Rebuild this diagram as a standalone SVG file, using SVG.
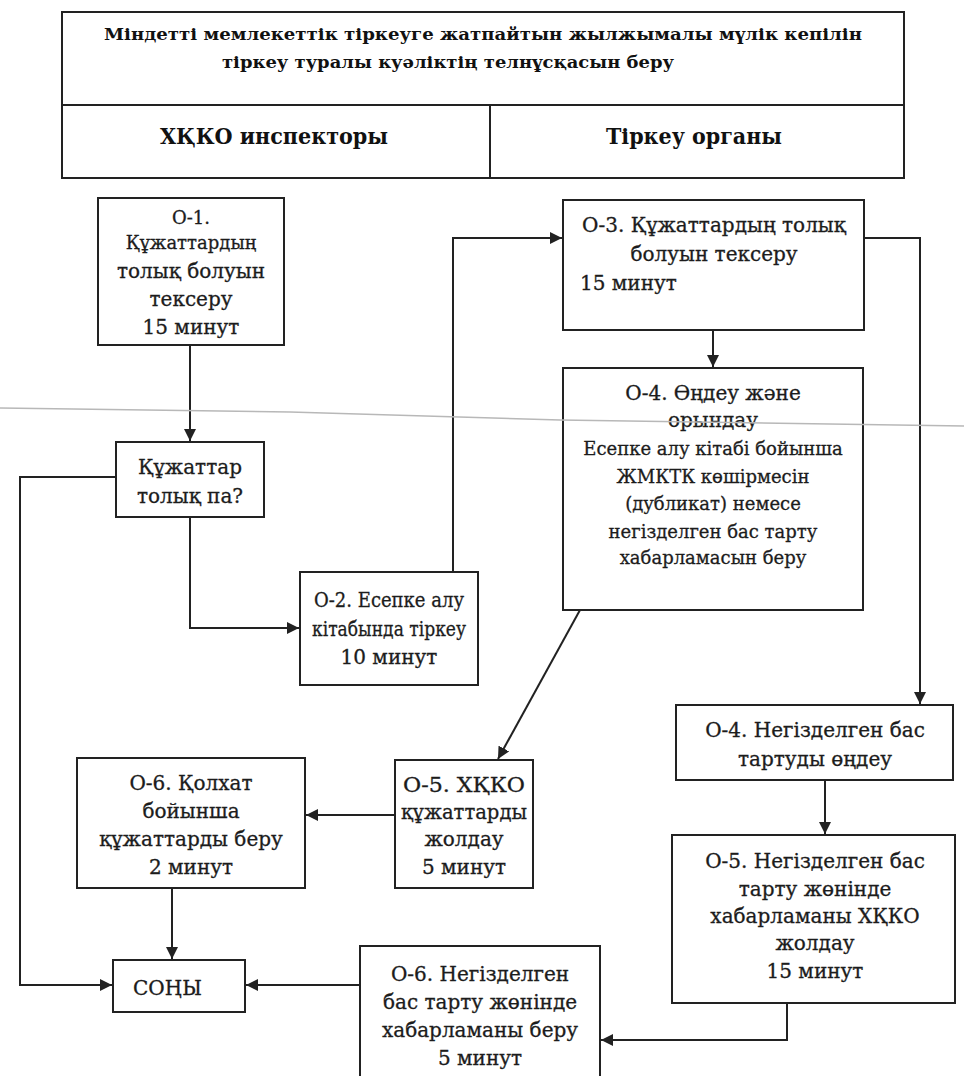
<svg xmlns="http://www.w3.org/2000/svg" width="964" height="1076" viewBox="0 0 964 1076">
  <style>
    .box { fill: #ffffff; stroke: #222222; stroke-width: 2; }
    .frame { fill: none; stroke: #222222; stroke-width: 2; }
    .t { font-family: "DejaVu Serif", "Liberation Serif", serif; font-size: 20px; fill: #1c1c1c; stroke: #1c1c1c; stroke-width: 0.3; text-anchor: middle; }
    .ts { font-family: "DejaVu Serif", "Liberation Serif", serif; font-size: 18px; fill: #1c1c1c; stroke: #1c1c1c; stroke-width: 0.3; text-anchor: middle; }
    .title { font-family: "DejaVu Serif", "Liberation Serif", serif; font-size: 17px; font-weight: bold; fill: #111111; }
    .lane { font-family: "DejaVu Serif", "Liberation Serif", serif; font-size: 22px; font-weight: bold; fill: #111111; text-anchor: middle; }
    .conn { fill: none; stroke: #222222; stroke-width: 2; }
  </style>
  <defs>
    <marker id="arrowL" viewBox="0 0 10 10" refX="10" refY="5" markerWidth="12" markerHeight="12" markerUnits="userSpaceOnUse" orient="auto">
      <path d="M0,0 L10,5 L0,10 z" fill="#222222"/>
    </marker>
  </defs>

  <rect width="964" height="1076" fill="#ffffff"/>

  <!-- header table -->
  <g id="header">
    <rect class="frame" x="62" y="12" width="842" height="166"/>
    <line class="frame" x1="62" y1="105" x2="904" y2="105"/>
    <line class="frame" x1="490" y1="105" x2="490" y2="178"/>
    <text class="title" x="104" y="40" textLength="758" lengthAdjust="spacingAndGlyphs">Міндетті мемлекеттік тіркеуге жатпайтын жылжымалы мүлік кепілін</text>
    <text class="title" x="222" y="68" textLength="452" lengthAdjust="spacingAndGlyphs">тіркеу туралы  куәліктің телнұсқасын беру</text>
    <text class="lane" x="274" y="144" textLength="228" lengthAdjust="spacingAndGlyphs">ХҚКО инспекторы</text>
    <text class="lane" x="694" y="144" textLength="176" lengthAdjust="spacingAndGlyphs">Тіркеу органы</text>
  </g>

  <!-- connectors -->
  <g id="connectors">
    <line class="conn" x1="190" y1="345" x2="190" y2="441" marker-end="url(#arrowL)"/>
    <polyline class="conn" points="116,477 20,477 20,985 112,985" marker-end="url(#arrowL)"/>
    <polyline class="conn" points="190,517 190,628 299,628" marker-end="url(#arrowL)"/>
    <polyline class="conn" points="453,572 453,238 562,238" marker-end="url(#arrowL)"/>
    <polyline class="conn" points="864,238 920,238 920,704" marker-end="url(#arrowL)"/>
    <line class="conn" x1="713" y1="330" x2="713" y2="367" marker-end="url(#arrowL)"/>
    <line class="conn" x1="580" y1="610" x2="498" y2="759" marker-end="url(#arrowL)"/>
    <line class="conn" x1="395" y1="815" x2="306" y2="815" marker-end="url(#arrowL)"/>
    <line class="conn" x1="172" y1="888" x2="172" y2="959" marker-end="url(#arrowL)"/>
    <line class="conn" x1="360" y1="985" x2="246" y2="985" marker-end="url(#arrowL)"/>
    <line class="conn" x1="825" y1="780" x2="825" y2="834" marker-end="url(#arrowL)"/>
    <polyline class="conn" points="787,1003 787,1040 601,1040" marker-end="url(#arrowL)"/>
  </g>

  <!-- inspector lane -->
  <g id="o1">
    <rect class="box" x="98" y="198" width="186" height="147"/>
    <text class="ts" x="191" y="224">О-1.</text>
    <text class="ts" x="191" y="249">Құжаттардың</text>
    <text class="t" x="191" y="278">толық болуын</text>
    <text class="t" x="191" y="306">тексеру</text>
    <text class="t" x="191" y="334">15 минут</text>
  </g>
  <g id="check">
    <rect class="box" x="116" y="442" width="148" height="75"/>
    <text class="t" x="190" y="474">Құжаттар</text>
    <text class="t" x="190" y="503">толық па?</text>
  </g>
  <g id="o2">
    <rect class="box" x="300" y="572" width="178" height="113"/>
    <text class="t" x="389" y="607" textLength="150" lengthAdjust="spacingAndGlyphs">О-2. Есепке алу</text>
    <text class="t" x="389" y="636" textLength="154" lengthAdjust="spacingAndGlyphs">кітабында тіркеу</text>
    <text class="t" x="389" y="664">10 минут</text>
  </g>
  <g id="o6">
    <rect class="box" x="77" y="758" width="228" height="130"/>
    <text class="t" x="191" y="790">О-6. Қолхат</text>
    <text class="t" x="191" y="818">бойынша</text>
    <text class="t" x="191" y="846">құжаттарды беру</text>
    <text class="t" x="191" y="874">2 минут</text>
  </g>
  <g id="o5">
    <rect class="box" x="395" y="760" width="138" height="128"/>
    <text class="t" x="464" y="792" textLength="122" lengthAdjust="spacingAndGlyphs">О-5. ХҚКО</text>
    <text class="t" x="464" y="819" textLength="126" lengthAdjust="spacingAndGlyphs">құжаттарды</text>
    <text class="t" x="464" y="846">жолдау</text>
    <text class="t" x="464" y="874">5 минут</text>
  </g>
  <g id="end">
    <rect class="box" x="113" y="960" width="132" height="52"/>
    <text class="t" x="133" y="995" style="text-anchor:start">СОҢЫ</text>
  </g>

  <!-- registration authority lane -->
  <g id="o3">
    <rect class="box" x="563" y="200" width="301" height="130"/>
    <text class="t" x="714" y="232">О-3. Құжаттардың толық</text>
    <text class="t" x="714" y="261">болуын тексеру</text>
    <text class="t" x="580" y="290" style="text-anchor:start">15 минут</text>
  </g>
  <g id="o4">
    <rect class="box" x="563" y="368" width="300" height="242"/>
    <text class="t" x="713" y="400">О-4. Өңдеу және</text>
    <text class="t" x="713" y="427">орындау</text>
    <text class="ts" x="713" y="455">Есепке алу кітабі бойынша</text>
    <text class="ts" x="713" y="483">ЖМКТК көшірмесін</text>
    <text class="ts" x="713" y="510">(дубликат) немесе</text>
    <text class="ts" x="713" y="538">негізделген бас тарту</text>
    <text class="ts" x="713" y="564">хабарламасын беру</text>
  </g>
  <g id="o4b">
    <rect class="box" x="676" y="705" width="277" height="75"/>
    <text class="t" x="815" y="737">О-4. Негізделген бас</text>
    <text class="t" x="815" y="766">тартуды өңдеу</text>
  </g>
  <g id="o5b">
    <rect class="box" x="672" y="835" width="283" height="168"/>
    <text class="t" x="815" y="868">О-5. Негізделген бас</text>
    <text class="t" x="815" y="896">тарту жөнінде</text>
    <text class="t" x="815" y="923">хабарламаны ХҚКО</text>
    <text class="t" x="815" y="950">жолдау</text>
    <text class="t" x="815" y="978">15 минут</text>
  </g>
  <g id="o6b">
    <rect class="box" x="360" y="946" width="240" height="140"/>
    <text class="t" x="480" y="981">О-6. Негізделген</text>
    <text class="t" x="480" y="1009">бас тарту жөнінде</text>
    <text class="t" x="480" y="1037">хабарламаны беру</text>
    <text class="t" x="480" y="1065">5 минут</text>
  </g>

  <!-- faint fold line across the sheet -->
  <polyline points="0,408 290,412 560,420 964,426" fill="none" stroke="#b8b8b8" stroke-width="1.5"/>
</svg>
